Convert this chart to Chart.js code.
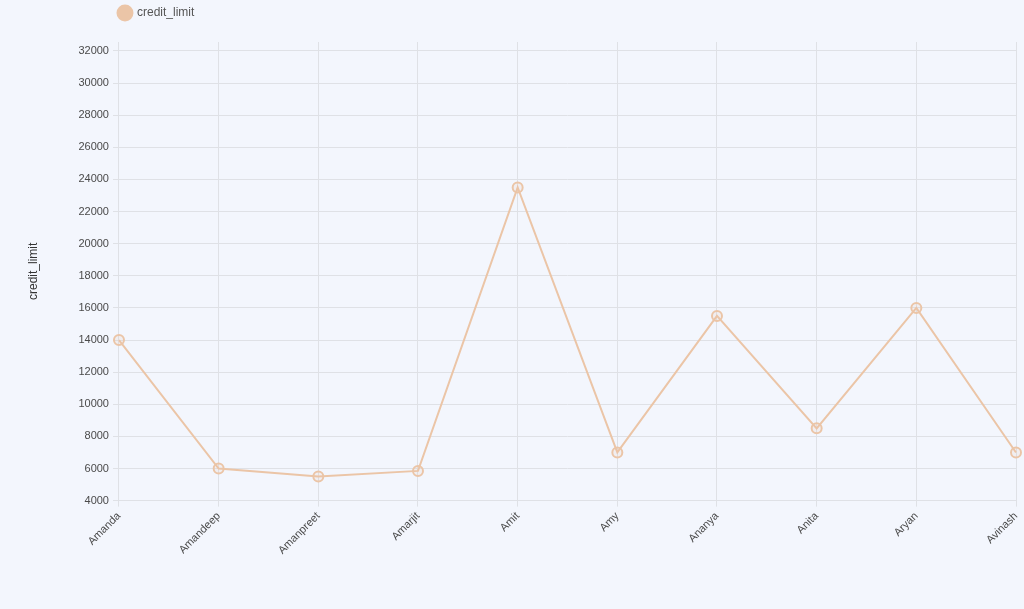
<!DOCTYPE html>
<html>
<head>
<meta charset="utf-8">
<script src="https://cdn.jsdelivr.net/npm/chart.js@4"></script>
<style>
  html, body { margin: 0; padding: 0; background: #f3f6fd; overflow: hidden; }
</style>
</head>
<body>
<canvas id="chart" width="1024" height="609"></canvas>
<script>
const names = ['Amanda', 'Amandeep', 'Amanpreet', 'Amarjit', 'Amit', 'Amy', 'Ananya', 'Anita', 'Aryan', 'Avinash'];
const creditLimit = [14000, 6000, 5500, 5850, 23500, 7000, 15500, 8500, 16000, 7000];
const yTicks = [4000, 6000, 8000, 10000, 12000, 14000, 16000, 18000, 20000, 22000, 24000, 26000, 28000, 30000, 32000];

const lineColor = '#ebc5a7';
const tickColor = '#4a4a4a';
const gridColor = '#dfe1e6';
const fontFamily = 'Liberation Sans, Arial, sans-serif';

// nudge the legend up/left to sit where the original one is
const legendShift = {
  id: 'legendShift',
  afterLayout(chart) {
    const lg = chart.legend;
    if (!lg) return;
    lg.top -= 13; lg.bottom -= 13;
    lg.left -= 10; lg.right -= 10;
  },
};

const ctx = document.getElementById('chart').getContext('2d');

new Chart(ctx, {
  type: 'line',
  data: {
    labels: names,
    datasets: [{
      label: 'credit_limit',
      data: creditLimit,
      borderColor: lineColor,
      backgroundColor: lineColor,
      borderWidth: 2,
      pointRadius: 5,
      pointBorderWidth: 2,
      pointBackgroundColor: 'rgba(235,197,167,0.15)',
      pointBorderColor: lineColor,
      tension: 0,
    }],
  },
  options: {
    responsive: false,
    animation: false,
    layout: {
      padding: { left: 26, right: 8, top: 10, bottom: 49 },
    },
    plugins: {
      legend: {
        position: 'top',
        align: 'start',
        fullSize: false,
        labels: {
          usePointStyle: true,
          pointStyle: 'circle',
          boxWidth: 12,
          boxHeight: 12,
          padding: 10,
          color: '#555',
          font: { family: fontFamily, size: 12 },
          generateLabels: (chart) => {
            const items = Chart.defaults.plugins.legend.labels.generateLabels(chart);
            items.forEach(it => {
              it.fillStyle = lineColor;
              it.strokeStyle = lineColor;
              it.lineWidth = 0;
            });
            return items;
          },
        },
      },
      tooltip: { enabled: false },
    },
    scales: {
      x: {
        offset: false,
        grid: { color: gridColor, tickLength: 6 },
        border: { color: gridColor },
        afterFit: (scale) => { scale.paddingRight = 0; },
        ticks: {
          color: tickColor,
          maxRotation: 45,
          minRotation: 45,
          font: { family: fontFamily, size: 11 },
        },
      },
      y: {
        min: 4000,
        max: 32560,
        grid: { color: gridColor, tickLength: 6 },
        border: { color: gridColor },
        title: {
          display: true,
          text: 'credit_limit',
          color: '#333',
          padding: { top: 0, bottom: 34 },
          font: { family: fontFamily, size: 12 },
        },
        afterBuildTicks: (scale) => {
          scale.ticks = yTicks.map(v => ({ value: v }));
        },
        ticks: {
          color: tickColor,
          padding: 4,
          font: { family: fontFamily, size: 11 },
          callback: (v) => String(v),
        },
      },
    },
  },
  plugins: [legendShift],
});
</script>
</body>
</html>
